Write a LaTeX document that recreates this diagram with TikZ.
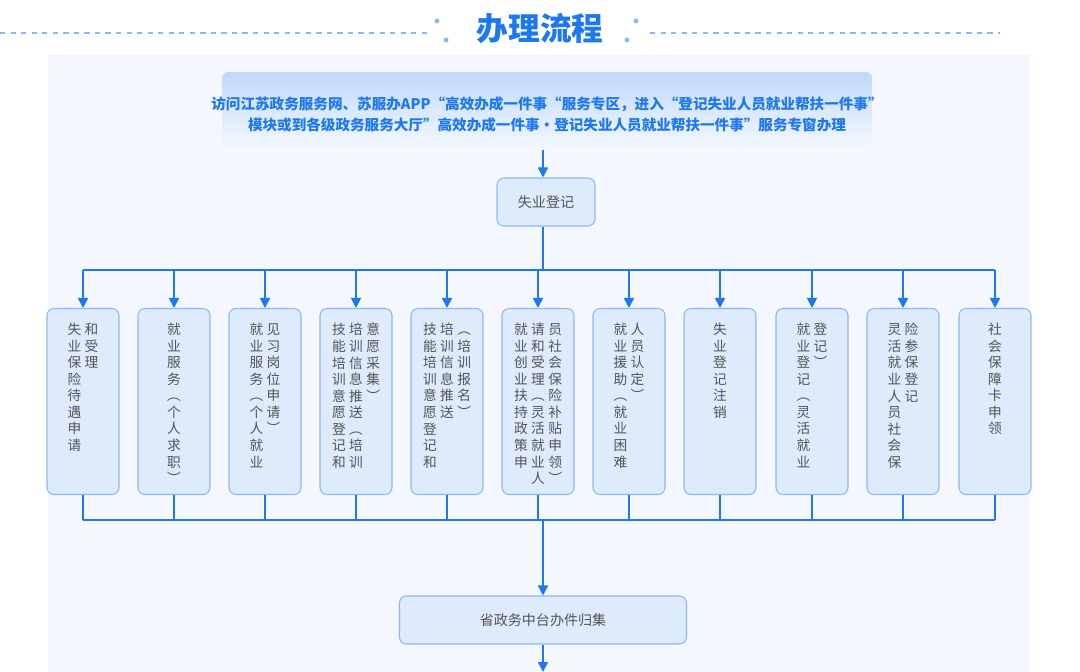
\documentclass[tikz,border=0pt]{standalone}
\usepackage{fontspec}
\setmainfont{Noto Sans CJK SC}
\usetikzlibrary{arrows.meta, positioning}
\definecolor{flowblue}{HTML}{1E78F0}
\definecolor{boxfill}{HTML}{DDEBFD}
\definecolor{boxline}{HTML}{8DB8F5}
\definecolor{panel}{HTML}{F4F8FE}
\definecolor{txtgray}{HTML}{555555}
\newcommand\vchars[1]{\vtop{\hsize=1.25em\parindent=0pt\baselineskip=9.4pt\vcharsi#1\relax}}
\def\vcharsi#1{\ifx\relax#1\else\hbox to 1.25em{\hss#1\hss}\par\expandafter\vcharsi\fi}
\begin{document}
\begin{tikzpicture}[x=0.02cm, y=-0.02cm,
    block/.style={rectangle, rounded corners=4pt, draw=boxline, fill=boxfill, line width=0.6pt, align=center, font=\fontsize{8}{10}\selectfont, text=txtgray},
    item/.style={block, minimum width=72*0.02cm, minimum height=186*0.02cm, anchor=north, inner sep=0pt,
        label={[anchor=north, yshift=-0.3cm, font=\fontsize{7.8}{9}\selectfont, text=txtgray, inner sep=0pt]north:#1}},
    arrow/.style={-{Triangle[length=2mm, width=2mm]}, flowblue, line width=0.9pt},
    link/.style={flowblue, line width=0.9pt}
]
    \useasboundingbox (0,0) rectangle (1080,672);
    \fill[panel] (48,55) rectangle (1030,672);
    % title
    \node[text=flowblue, font=\fontsize{18}{20}\selectfont\bfseries] (title) at (540,29) {办理流程};
    \draw[boxline, dashed, line width=0.6pt] (0,33) -- (430,33);
    \draw[boxline, dashed, line width=0.6pt] (650,33) -- (1000,33);
    \fill[boxline] (437,21) circle (2.5) (446,40) circle (2.5) (636,21) circle (2.5) (627,40) circle (2.5);
    % top box
    \shade[top color=boxfill!85!flowblue, bottom color=panel, rounded corners=3pt] (222,72) rectangle (872,150);
    \node[text=flowblue, font=\fontsize{8.3}{12}\selectfont\bfseries, align=center] (top) at (547,114)
        {访问江苏政务服务网、苏服办APP“高效办成一件事“服务专区，进入“登记失业人员就业帮扶一件事”\\模块或到各级政务服务大厅"高效办成一件事·登记失业人员就业帮扶一件事"服务专窗办理};
    \coordinate (topb) at (543,150);
    \node[block, minimum width=98*0.02cm, minimum height=48*0.02cm] (reg) at (546,202) {失业登记};
    \draw[arrow] (topb) -- (reg.north -| topb);
    % items
    \node[item={\vchars{失业保险待遇申请}\vchars{和受理}}] (i1) at (83,308) {};
    \node[item={\vchars{就业服务︵个人求职︶}}] (i2) at (174,308) {};
    \node[item={\vchars{就业服务︵个人就业}\vchars{见习岗位申请︶}}] (i3) at (265,308) {};
    \node[item={\vchars{技能培训意愿登记和}\vchars{培训信息推送︵培训}\vchars{意愿采集︶}}] (i4) at (356,308) {};
    \node[item={\vchars{技能培训意愿登记和}\vchars{培训信息推送}\vchars{︵培训报名︶}}] (i5) at (447,308) {};
    \node[item={\vchars{就业创业扶持政策申}\vchars{请和受理︵灵活就业人}\vchars{员社会保险补贴申领︶}}] (i6) at (538,308) {};
    \node[item={\vchars{就业援助︵就业困难}\vchars{人员认定︶}}] (i7) at (629,308) {};
    \node[item={\vchars{失业登记注销}}] (i8) at (720,308) {};
    \node[item={\vchars{就业登记︵灵活就业}\vchars{登记︶}}] (i9) at (812,308) {};
    \node[item={\vchars{灵活就业人员社会保}\vchars{险参保登记}}] (i10) at (903,308) {};
    \node[item={\vchars{社会保障卡申领}}] (i11) at (995,308) {};
    \coordinate (split) at (543,270);
    \coordinate (join) at (543,520);
    \draw[link] (reg.south -| split) -- (split);
    \draw[link] (i1.north |- split) -- (i11.north |- split);
    \draw[link] (i1.south |- join) -- (i11.south |- join);
    \foreach \n in {i1,i2,i3,i4,i5,i6,i7,i8,i9,i10,i11}{
        \draw[arrow] (\n.north |- split) -- (\n.north);
        \draw[link] (\n.south) -- (\n.south |- join);
    }
    \node[block, minimum width=287*0.02cm, minimum height=48*0.02cm] (hub) at (543,620) {省政务中台办件归集};
    \draw[arrow] (join) -- (hub.north);
    \coordinate (endb) at (543,672);
    \draw[arrow] (hub.south) -- (endb);
\end{tikzpicture}
\end{document}
